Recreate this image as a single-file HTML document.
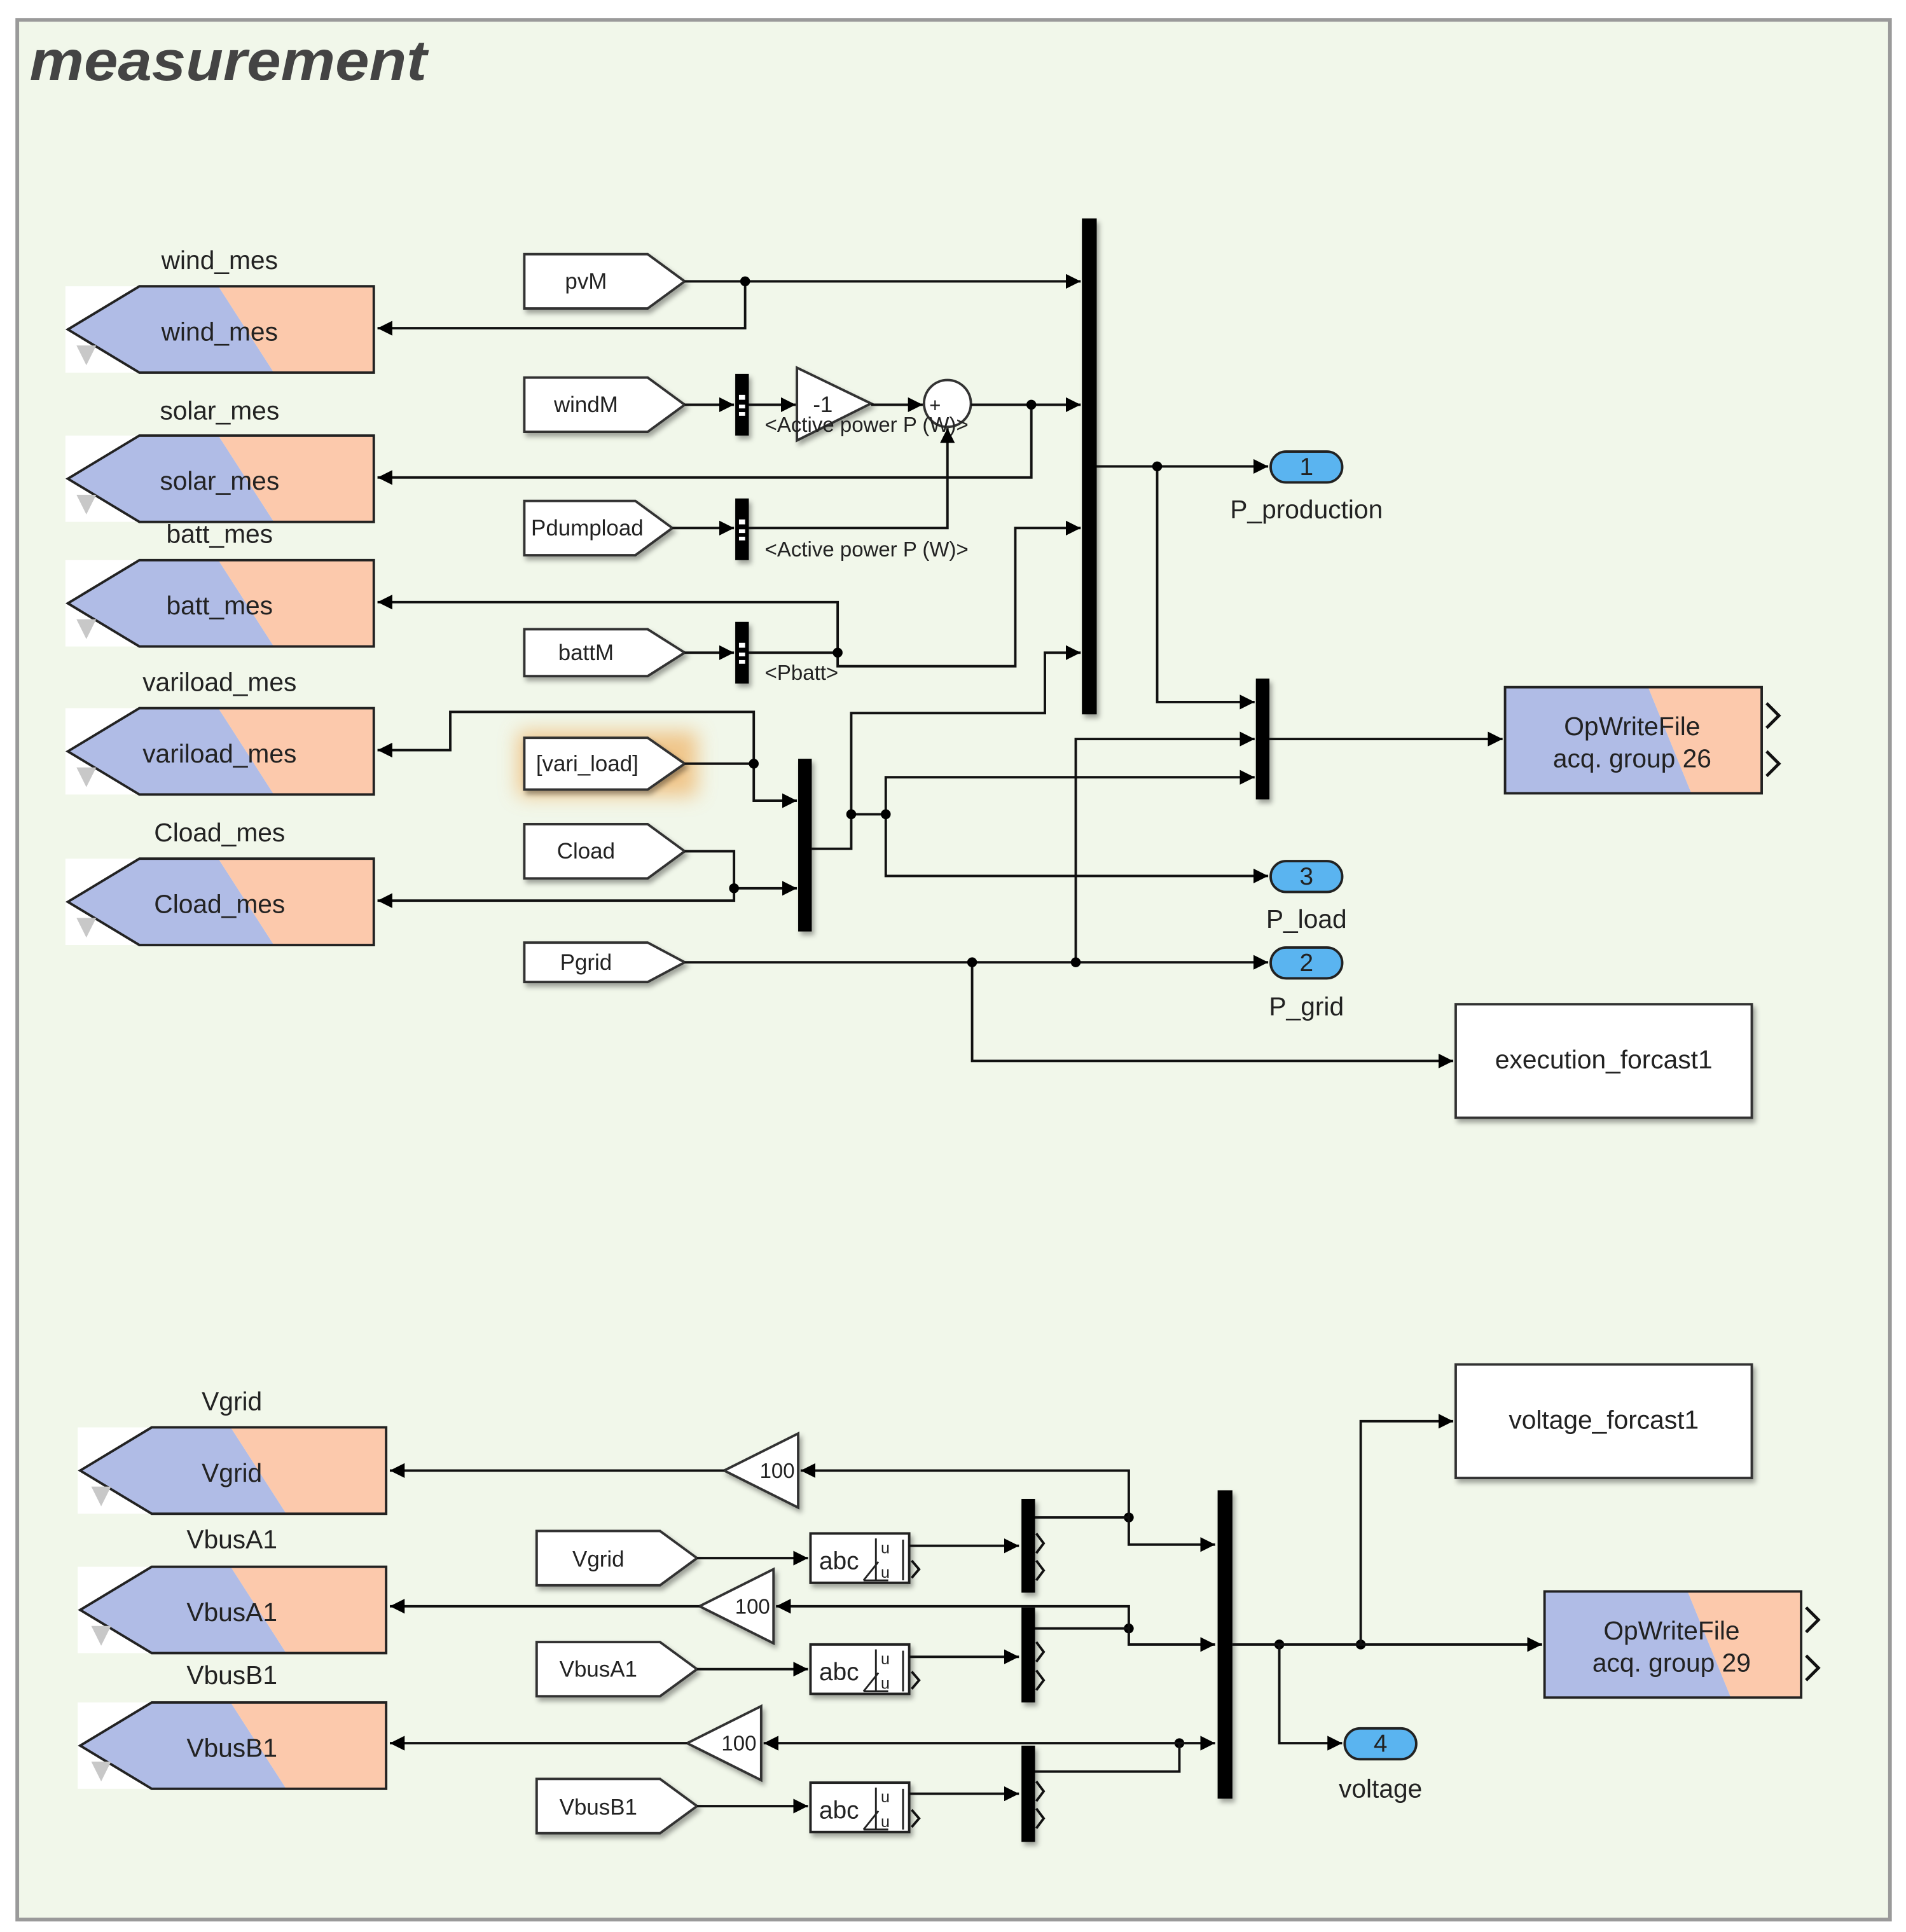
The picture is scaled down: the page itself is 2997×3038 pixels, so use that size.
<!DOCTYPE html>
<html><head><meta charset="utf-8"><style>
html,body{margin:0;padding:0;background:#fff;}
svg{display:block;}
text{font-family:"Liberation Sans",Arial,sans-serif;fill:#222;}
</style></head><body>
<svg width="2997" height="3038" viewBox="0 0 1545 1566" xmlns="http://www.w3.org/2000/svg">
<defs>
<marker id="a" viewBox="0 0 10 10" refX="10" refY="5" markerWidth="12" markerHeight="12" markerUnits="userSpaceOnUse" orient="auto"><path d="M0,0 L10,5 L0,10 z" fill="#000"/></marker>
<filter id="sh" x="-10%" y="-10%" width="130%" height="140%"><feDropShadow dx="2" dy="3" stdDeviation="2" flood-color="#000" flood-opacity="0.35"/></filter>
<filter id="glow" x="-30%" y="-60%" width="160%" height="220%"><feGaussianBlur stdDeviation="8"/></filter>
</defs>
<rect x="0" y="0" width="1545" height="1566" fill="#fff"/>
<rect x="14" y="16" width="1518" height="1540" fill="#f1f7ea" stroke="#9a9a9a" stroke-width="3"/>
<text x="24" y="65" font-size="46" font-weight="bold" font-style="italic" textLength="322" lengthAdjust="spacingAndGlyphs" style="fill:#444">measurement</text>

<g stroke="#222" stroke-width="2">
<g>
 <rect x="53" y="232" width="60" height="70" fill="#fff" stroke="none"/>
 <polygon points="55,267 113,232 177,232 222,302 113,302" fill="#b0bce6" stroke="none"/>
 <polygon points="177,232 303,232 303,302 222,302" fill="#fcc9ac" stroke="none"/>
 <polygon points="55,267 113,232 303,232 303,302 113,302" fill="none"/>
</g>
<g>
 <rect x="53" y="353" width="60" height="70" fill="#fff" stroke="none"/>
 <polygon points="55,388 113,353 177,353 222,423 113,423" fill="#b0bce6" stroke="none"/>
 <polygon points="177,353 303,353 303,423 222,423" fill="#fcc9ac" stroke="none"/>
 <polygon points="55,388 113,353 303,353 303,423 113,423" fill="none"/>
</g>
<g>
 <rect x="53" y="454" width="60" height="70" fill="#fff" stroke="none"/>
 <polygon points="55,489 113,454 177,454 222,524 113,524" fill="#b0bce6" stroke="none"/>
 <polygon points="177,454 303,454 303,524 222,524" fill="#fcc9ac" stroke="none"/>
 <polygon points="55,489 113,454 303,454 303,524 113,524" fill="none"/>
</g>
<g>
 <rect x="53" y="574" width="60" height="70" fill="#fff" stroke="none"/>
 <polygon points="55,609 113,574 177,574 222,644 113,644" fill="#b0bce6" stroke="none"/>
 <polygon points="177,574 303,574 303,644 222,644" fill="#fcc9ac" stroke="none"/>
 <polygon points="55,609 113,574 303,574 303,644 113,644" fill="none"/>
</g>
<g>
 <rect x="53" y="696" width="60" height="70" fill="#fff" stroke="none"/>
 <polygon points="55,731 113,696 177,696 222,766 113,766" fill="#b0bce6" stroke="none"/>
 <polygon points="177,696 303,696 303,766 222,766" fill="#fcc9ac" stroke="none"/>
 <polygon points="55,731 113,696 303,696 303,766 113,766" fill="none"/>
</g>
<g>
 <rect x="63" y="1157" width="60" height="70" fill="#fff" stroke="none"/>
 <polygon points="65,1192 123,1157 187,1157 232,1227 123,1227" fill="#b0bce6" stroke="none"/>
 <polygon points="187,1157 313,1157 313,1227 232,1227" fill="#fcc9ac" stroke="none"/>
 <polygon points="65,1192 123,1157 313,1157 313,1227 123,1227" fill="none"/>
</g>
<g>
 <rect x="63" y="1270" width="60" height="70" fill="#fff" stroke="none"/>
 <polygon points="65,1305 123,1270 187,1270 232,1340 123,1340" fill="#b0bce6" stroke="none"/>
 <polygon points="187,1270 313,1270 313,1340 232,1340" fill="#fcc9ac" stroke="none"/>
 <polygon points="65,1305 123,1270 313,1270 313,1340 123,1340" fill="none"/>
</g>
<g>
 <rect x="63" y="1380" width="60" height="70" fill="#fff" stroke="none"/>
 <polygon points="65,1415 123,1380 187,1380 232,1450 123,1450" fill="#b0bce6" stroke="none"/>
 <polygon points="187,1380 313,1380 313,1450 232,1450" fill="#fcc9ac" stroke="none"/>
 <polygon points="65,1415 123,1380 313,1380 313,1450 123,1450" fill="none"/>
</g>
</g>
<g fill="#c8c8c8">
<polygon points="62,280 78,280 70,296"/><polygon points="62,401 78,401 70,417"/><polygon points="62,502 78,502 70,518"/><polygon points="62,622 78,622 70,638"/><polygon points="62,744 78,744 70,760"/>
<polygon points="74,1205 90,1205 82,1221"/><polygon points="74,1318 90,1318 82,1334"/><polygon points="74,1428 90,1428 82,1444"/>
</g>
<g font-size="21" text-anchor="middle">
<text x="178" y="218">wind_mes</text><text x="178" y="276">wind_mes</text>
<text x="178" y="340">solar_mes</text><text x="178" y="397">solar_mes</text>
<text x="178" y="440">batt_mes</text><text x="178" y="498">batt_mes</text>
<text x="178" y="560">variload_mes</text><text x="178" y="618">variload_mes</text>
<text x="178" y="682">Cload_mes</text><text x="178" y="740">Cload_mes</text>
<text x="188" y="1143">Vgrid</text><text x="188" y="1201">Vgrid</text>
<text x="188" y="1255">VbusA1</text><text x="188" y="1314">VbusA1</text>
<text x="188" y="1365">VbusB1</text><text x="188" y="1424">VbusB1</text>
</g>

<rect x="420" y="593" width="145" height="52" fill="#f0b060" opacity="0.7" filter="url(#glow)"/>
<g fill="#fff" stroke="#333" stroke-width="2" filter="url(#sh)">
<polygon points="425,206 525,206 555,228 525,250 425,250"/>
<polygon points="425,306 525,306 555,328 525,350 425,350"/>
<polygon points="425,406 515,406 545,428 515,450 425,450"/>
<polygon points="425,510 525,510 555,529 525,548 425,548"/>
<polygon points="425,598 525,598 555,619 525,640 425,640"/>
<polygon points="425,668 525,668 555,690 525,712 425,712"/>
<polygon points="425,764 525,764 555,780 525,796 425,796"/>
<polygon points="435,1241 535,1241 565,1263 535,1285 435,1285"/>
<polygon points="435,1331 535,1331 565,1353 535,1375 435,1375"/>
<polygon points="435,1442 535,1442 565,1464 535,1486 435,1486"/>
</g>
<g font-size="18" text-anchor="middle">
<text x="475" y="234">pvM</text><text x="475" y="334">windM</text><text x="476" y="434">Pdumpload</text>
<text x="475" y="535">battM</text><text x="476" y="625">[vari_load]</text><text x="475" y="696">Cload</text>
<text x="475" y="786">Pgrid</text><text x="485" y="1270">Vgrid</text><text x="485" y="1359">VbusA1</text><text x="485" y="1471">VbusB1</text>
</g>

<g fill="#000" filter="url(#sh)">
<rect x="877" y="177" width="12" height="402"/>
<rect x="596" y="303" width="11" height="50"/><rect x="596" y="404" width="11" height="50"/><rect x="596" y="504" width="11" height="50"/>
<rect x="647" y="615" width="11" height="140"/>
<rect x="1018" y="550" width="11" height="98"/>
<rect x="828" y="1215" width="11" height="76"/><rect x="828" y="1303" width="11" height="77"/><rect x="828" y="1415" width="11" height="78"/>
<rect x="987" y="1208" width="12" height="250"/>
</g>
<g fill="#fff"><rect x="599" y="320" width="5" height="4"/><rect x="599" y="328" width="5" height="3"/><rect x="599" y="334" width="5" height="3"/>
<rect x="599" y="421" width="5" height="4"/><rect x="599" y="429" width="5" height="3"/><rect x="599" y="435" width="5" height="3"/>
<rect x="599" y="521" width="5" height="4"/><rect x="599" y="529" width="5" height="3"/><rect x="599" y="535" width="5" height="3"/></g>

<polygon points="646,298 706,327 646,357" fill="#fff" stroke="#333" stroke-width="2" filter="url(#sh)"/>
<text x="667" y="334" font-size="18" text-anchor="middle">-1</text>
<circle cx="768" cy="327" r="19" fill="#fff" stroke="#333" stroke-width="2"/>
<text x="758" y="334" font-size="16" text-anchor="middle">+</text>
<g font-size="17"><text x="620" y="350">&lt;Active power P (W)&gt;</text><text x="620" y="451">&lt;Active power P (W)&gt;</text><text x="620" y="551">&lt;Pbatt&gt;</text></g>

<g fill="none" stroke="#111" stroke-width="2">
<path d="M555,228 H876" marker-end="url(#a)"/>
<path d="M604,228 V266 H306" marker-end="url(#a)"/>
<path d="M555,328 H595" marker-end="url(#a)"/>
<path d="M607,328 H645" marker-end="url(#a)"/>
<path d="M706,328 H748" marker-end="url(#a)"/>
<path d="M787,328 H876" marker-end="url(#a)"/>
<path d="M836,328 V387 H306" marker-end="url(#a)"/>
<path d="M545,428 H595" marker-end="url(#a)"/>
<path d="M607,428 H768 V347" marker-end="url(#a)"/>
<path d="M555,529 H595" marker-end="url(#a)"/>
<path d="M607,529 H679 V488 H306" marker-end="url(#a)"/>
<path d="M679,529 V540 H823 V428 H876" marker-end="url(#a)"/>
<path d="M658,688 H690 V578 H847 V529 H876" marker-end="url(#a)"/>
<path d="M690,660 H718 V630 H1017" marker-end="url(#a)"/>
<path d="M718,660 V710 H1028" marker-end="url(#a)"/>
<path d="M555,619 H611 V649 H646" marker-end="url(#a)"/>
<path d="M611,619 V577 H365 V608 H306" marker-end="url(#a)"/>
<path d="M555,690 H595 V720 H646" marker-end="url(#a)"/>
<path d="M595,720 V730 H306" marker-end="url(#a)"/>
<path d="M555,780 H1028" marker-end="url(#a)"/>
<path d="M788,780 V860 H1178" marker-end="url(#a)"/>
<path d="M872,780 V599 H1017" marker-end="url(#a)"/>
<path d="M889,378 H1028" marker-end="url(#a)"/>
<path d="M938,378 V569 H1017" marker-end="url(#a)"/>
<path d="M1029,599 H1218" marker-end="url(#a)"/>
</g>
<g fill="#000">
<circle cx="604" cy="228" r="4"/><circle cx="836" cy="328" r="4"/><circle cx="679" cy="529" r="4"/>
<circle cx="611" cy="619" r="4"/><circle cx="595" cy="720" r="4"/><circle cx="690" cy="660" r="4"/><circle cx="718" cy="660" r="4"/>
<circle cx="788" cy="780" r="4"/><circle cx="872" cy="780" r="4"/><circle cx="938" cy="378" r="4"/>
<circle cx="915" cy="1230" r="4"/><circle cx="915" cy="1320" r="4"/><circle cx="956" cy="1413" r="4"/><circle cx="1037" cy="1333" r="4"/><circle cx="1103" cy="1333" r="4"/>
</g>

<g fill="#5ab4f0" stroke="#222" stroke-width="2">
<rect x="1030" y="366" width="58" height="25" rx="12.5"/>
<rect x="1030" y="698" width="58" height="25" rx="12.5"/>
<rect x="1030" y="768" width="58" height="25" rx="12.5"/>
<rect x="1090" y="1401" width="58" height="25" rx="12.5"/>
</g>
<g font-size="20" text-anchor="middle">
<text x="1059" y="385">1</text><text x="1059" y="717">3</text><text x="1059" y="787">2</text><text x="1119" y="1420">4</text>
<text x="1059" y="420" font-size="21">P_production</text><text x="1059" y="752" font-size="21">P_load</text><text x="1059" y="823" font-size="21">P_grid</text><text x="1119" y="1457" font-size="21">voltage</text>
</g>

<g>
<polygon points="1220,557 1336,557 1371,643 1220,643" fill="#b0bce6"/>
<polygon points="1336,557 1428,557 1428,643 1371,643" fill="#fcc9ac"/>
<rect x="1220" y="557" width="208" height="86" fill="none" stroke="#222" stroke-width="2"/>
<text x="1323" y="596" font-size="21" text-anchor="middle">OpWriteFile</text>
<text x="1323" y="622" font-size="21" text-anchor="middle">acq. group 26</text>
<path d="M1432,570 L1442,580 L1432,590 M1432,609 L1442,619 L1432,629" fill="none" stroke="#111" stroke-width="2.5"/>
</g>
<g>
<polygon points="1252,1290 1368,1290 1403,1376 1252,1376" fill="#b0bce6"/>
<polygon points="1368,1290 1460,1290 1460,1376 1403,1376" fill="#fcc9ac"/>
<rect x="1252" y="1290" width="208" height="86" fill="none" stroke="#222" stroke-width="2"/>
<text x="1355" y="1329" font-size="21" text-anchor="middle">OpWriteFile</text>
<text x="1355" y="1355" font-size="21" text-anchor="middle">acq. group 29</text>
<path d="M1464,1303 L1474,1313 L1464,1323 M1464,1342 L1474,1352 L1464,1362" fill="none" stroke="#111" stroke-width="2.5"/>
</g>

<g fill="#fff" stroke="#333" stroke-width="2" filter="url(#sh)">
<rect x="1180" y="814" width="240" height="92"/>
<rect x="1180" y="1106" width="240" height="92"/>
</g>
<text x="1300" y="866" font-size="21" text-anchor="middle">execution_forcast1</text>
<text x="1300" y="1158" font-size="21" text-anchor="middle">voltage_forcast1</text>

<g fill="#fff" stroke="#333" stroke-width="2" filter="url(#sh)">
<polygon points="587,1192 647,1162 647,1222"/>
<polygon points="567,1302 627,1272 627,1332"/>
<polygon points="557,1413 617,1383 617,1443"/>
</g>
<g font-size="17" text-anchor="middle"><text x="630" y="1198">100</text><text x="610" y="1308">100</text><text x="599" y="1419">100</text></g>

<g>
<g fill="#fff" stroke="#222" stroke-width="2" filter="url(#sh)">
<rect x="657" y="1243" width="80" height="40"/><rect x="657" y="1333" width="80" height="40"/><rect x="657" y="1445" width="80" height="40"/>
</g>
<g font-size="20"><text x="664" y="1272">abc</text><text x="664" y="1362">abc</text><text x="664" y="1474">abc</text></g>
<g fill="none" stroke="#222" stroke-width="1.5">
<path d="M710,1247 V1281 M700,1281 L712,1266 M700,1281 H720 M732,1248 V1281"/>
<path d="M710,1337 V1371 M700,1371 L712,1356 M700,1371 H720 M732,1338 V1371"/>
<path d="M710,1449 V1483 M700,1483 L712,1468 M700,1483 H720 M732,1450 V1483"/>
</g>
<g font-size="13"><text x="714" y="1259">u</text><text x="714" y="1279">u</text><text x="714" y="1349">u</text><text x="714" y="1369">u</text><text x="714" y="1461">u</text><text x="714" y="1481">u</text></g>
<path d="M739,1265 L745,1272 L739,1279 M739,1355 L745,1362 L739,1369 M739,1467 L745,1474 L739,1481" fill="none" stroke="#111" stroke-width="2"/>
</g>
<path d="M840,1243 L846,1251 L840,1259 M840,1265 L846,1273 L840,1281 M840,1331 L846,1339 L840,1347 M840,1354 L846,1362 L840,1370 M840,1444 L846,1452 L840,1460 M840,1466 L846,1474 L840,1482" fill="none" stroke="#111" stroke-width="2"/>

<g fill="none" stroke="#111" stroke-width="2">
<path d="M565,1263 H655" marker-end="url(#a)"/>
<path d="M565,1353 H655" marker-end="url(#a)"/>
<path d="M565,1464 H655" marker-end="url(#a)"/>
<path d="M737,1253 H826" marker-end="url(#a)"/>
<path d="M737,1343 H826" marker-end="url(#a)"/>
<path d="M737,1454 H826" marker-end="url(#a)"/>
<path d="M839,1230 H915 V1252 H985" marker-end="url(#a)"/>
<path d="M915,1230 V1192 H649" marker-end="url(#a)"/>
<path d="M839,1320 H915 V1333 H985" marker-end="url(#a)"/>
<path d="M915,1320 V1302 H629" marker-end="url(#a)"/>
<path d="M839,1436 H956 V1413 H985" marker-end="url(#a)"/>
<path d="M956,1413 H619" marker-end="url(#a)"/>
<path d="M587,1192 H316" marker-end="url(#a)"/>
<path d="M567,1302 H316" marker-end="url(#a)"/>
<path d="M557,1413 H316" marker-end="url(#a)"/>
<path d="M999,1333 H1250" marker-end="url(#a)"/>
<path d="M1037,1333 V1413 H1088" marker-end="url(#a)"/>
<path d="M1103,1333 V1152 H1178" marker-end="url(#a)"/>
</g>
</svg>
</body></html>
